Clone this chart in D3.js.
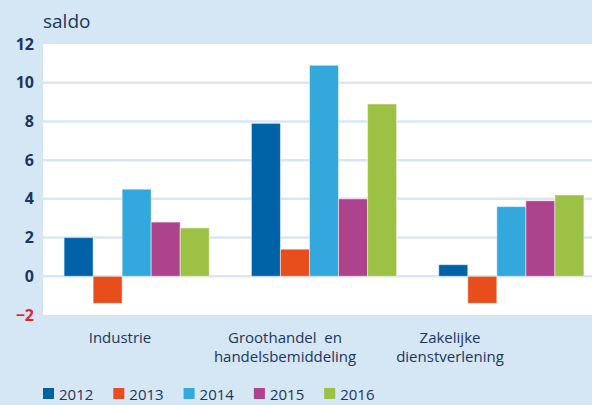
<!DOCTYPE html>
<html>
<head>
<meta charset="utf-8">
<script src="https://cdn.jsdelivr.net/npm/d3@7"></script>
<style>
  body { margin: 0; background: #d5e6f4; }
  svg { display: block; font-family: "Open Sans", sans-serif; }
</style>
</head>
<body>
<script>
// data
const categories = ['Industrie', 'Groothandel  en\nhandelsbemiddeling', 'Zakelijke\ndienstverlening'];
const years = ['2012', '2013', '2014', '2015', '2016'];
const colors = ['#0063a8', '#e84e1b', '#32a8dc', '#ad438c', '#9dc145'];
const values2012 = [2.0, 7.9, 0.6];
const values2013 = [-1.4, 1.4, -1.4];
const values2014 = [4.5, 10.9, 3.6];
const values2015 = [2.8, 4.0, 3.9];
const values2016 = [2.5, 8.9, 4.2];
const yTicks = [-2, 0, 2, 4, 6, 8, 10, 12];

const series = [values2012, values2013, values2014, values2015, values2016];

const width = 592;
const height = 405;
const margin = { top: 44, right: 0, bottom: 90, left: 43 };
const plotBottom = height - margin.bottom; // 315

const svg = d3.select('body').append('svg')
  .attr('width', width)
  .attr('height', height);

// scales
const x0 = d3.scaleBand().domain(categories).range([margin.left, 605])
  .paddingInner(0.225).paddingOuter(0.1125);
const x1 = d3.scaleBand().domain(years).range([0, x0.bandwidth()]);
const y = d3.scaleLinear().domain([-2, 12]).range([plotBottom, margin.top]);
// labels below the chart sit on their own positions
const xLabel = d3.scaleBand().domain(categories).range([37.5, 532.5]);

// plot area
svg.append('rect')
  .attr('x', margin.left)
  .attr('y', margin.top)
  .attr('width', width - margin.left)
  .attr('height', plotBottom - margin.top)
  .attr('fill', '#fff');

// gridlines
svg.append('g')
  .selectAll('line')
  .data(yTicks.filter(d => d > -2 && d < 12))
  .join('line')
  .attr('x1', margin.left)
  .attr('x2', width)
  .attr('y1', d => y(d))
  .attr('y2', d => y(d))
  .attr('stroke', '#d9e7f4')
  .attr('stroke-width', 2.5);

// y axis
const yAxis = svg.append('g')
  .attr('transform', `translate(${margin.left}, 0)`)
  .call(d3.axisLeft(y).tickValues(yTicks).tickSize(0).tickPadding(9));
yAxis.select('.domain').remove();
yAxis.selectAll('.tick text')
  .attr('font-family', '"Open Sans", sans-serif')
  .attr('font-size', 16)
  .attr('font-weight', 'bold')
  .attr('fill', d => d < 0 ? '#e3262b' : '#1b3660');

svg.append('text')
  .attr('x', 43)
  .attr('y', 28)
  .attr('font-size', 19)
  .attr('fill', '#1b3660')
  .text('saldo');

// bars
const rows = categories.map((c, i) => years.map((yr, j) => ({ cat: c, year: yr, value: series[j][i], color: colors[j] })));

svg.append('g')
  .selectAll('g')
  .data(rows)
  .join('g')
  .attr('transform', (d, i) => `translate(${x0(categories[i])}, 0)`)
  .selectAll('rect')
  .data(d => d)
  .join('rect')
  .attr('x', d => x1(d.year))
  .attr('y', d => y(Math.max(0, d.value)))
  .attr('width', x1.bandwidth())
  .attr('height', d => Math.abs(y(d.value) - y(0)))
  .attr('fill', d => d.color)
  .attr('stroke', 'rgba(255,255,255,0.5)')
  .attr('stroke-width', 1);

// category labels
const catLabels = svg.append('g')
  .selectAll('text')
  .data(categories)
  .join('text')
  .attr('x', d => xLabel(d) + xLabel.bandwidth() / 2)
  .attr('y', 343)
  .attr('text-anchor', 'middle')
  .attr('font-size', 15)
  .attr('fill', '#1b3660');
catLabels.selectAll('tspan')
  .data(d => d.split('\n'))
  .join('tspan')
  .attr('x', function() { return this.parentNode.getAttribute('x'); })
  .attr('dy', (d, i) => i === 0 ? 0 : 19)
  .attr('xml:space', 'preserve')
  .style('white-space', 'pre')
  .text(d => d);

// legend
const legend = svg.append('g')
  .selectAll('g')
  .data(years)
  .join('g')
  .attr('transform', (d, i) => `translate(${43 + i * 70.3}, 388)`);
legend.append('rect')
  .attr('width', 11)
  .attr('height', 11)
  .attr('fill', (d, i) => colors[i]);
legend.append('text')
  .attr('x', 16)
  .attr('y', 12)
  .attr('font-size', 15)
  .attr('fill', '#1b3660')
  .text(d => d);
</script>
</body>
</html>
